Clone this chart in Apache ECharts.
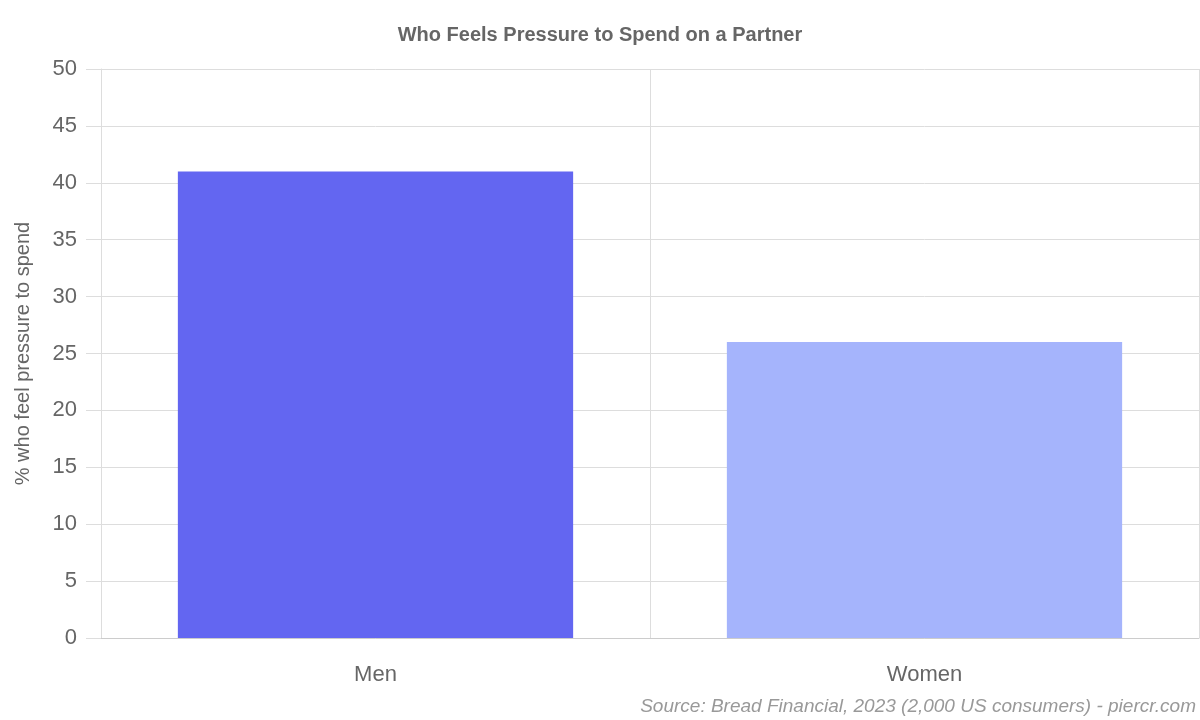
<!DOCTYPE html><html><head><meta charset="utf-8"><script src="https://cdn.jsdelivr.net/npm/echarts@6/dist/echarts.min.js"></script></head><body style="margin:0"><div id="c" style="width:1200px;height:720px"></div><script>
const categories=["Men","Women"];
const values=[41,26];
const colors=["#6366f1","#a5b4fc"];
const yTicks={min:0,max:50,interval:5};
const ch=echarts.init(document.getElementById('c'));
ch.setOption({
 textStyle:{fontFamily:"Liberation Sans"},
 title:{text:"Who Feels Pressure to Spend on a Partner",left:"center",top:20,textStyle:{fontSize:20,fontWeight:"bold",color:"#666",fontFamily:"Liberation Sans"}},
 graphic:[{type:"text",right:4,bottom:4,style:{text:"Source: Bread Financial, 2023 (2,000 US consumers) - piercr.com",fontSize:19,fontStyle:"italic",fill:"#999",fontFamily:"Liberation Sans"}}],
 grid:{left:101,right:1,top:69,bottom:82},
 xAxis:{type:"category",data:categories,axisLine:{lineStyle:{color:"#ccc"}},axisTick:{length:17,lineStyle:{color:"#ddd"}},splitLine:{show:true,lineStyle:{color:"#ddd"}},axisLabel:{fontSize:22,color:"#666",margin:26}},
 yAxis:{type:"value",min:yTicks.min,max:yTicks.max,interval:yTicks.interval,name:"% who feel pressure to spend",nameLocation:"middle",nameGap:68,nameTextStyle:{fontSize:20,color:"#666"},axisLine:{show:true,lineStyle:{color:"#ddd"}},axisTick:{show:true,length:15,lineStyle:{color:"#ddd"}},splitLine:{lineStyle:{color:"#ddd"}},axisLabel:{fontSize:22,color:"#666",margin:24}},
 series:[{type:"bar",barWidth:"72%",data:values.map((v,i)=>({value:v,itemStyle:{color:colors[i]}}))}]
});
</script></body></html>
